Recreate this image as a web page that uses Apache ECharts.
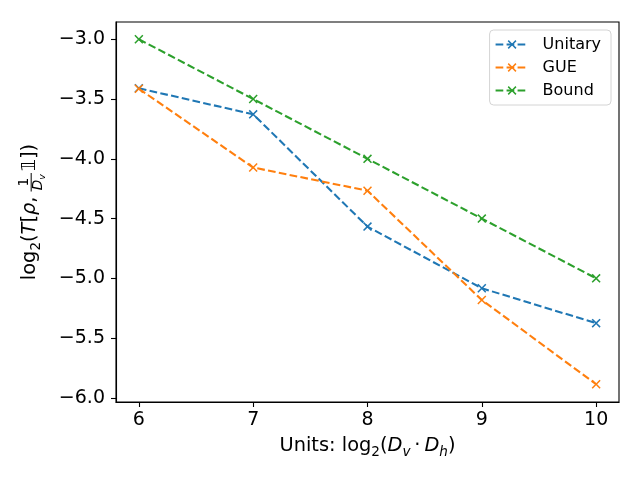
<!DOCTYPE html>
<html><head><meta charset="utf-8">
<script src="https://cdn.jsdelivr.net/npm/echarts@6/dist/echarts.min.js"></script>
<style>html,body{margin:0;padding:0;background:#fff}#c{width:640px;height:480px}</style>
</head><body><div id="c"></div>
<script>
// ---- data ----
const xValues = [6, 7, 8, 9, 10];
const unitary = [-3.41, -3.628, -4.567, -5.083, -5.375];
const gue = [-3.414, -4.073, -4.267, -5.181, -5.886];
const bound = [-3.0, -3.5, -4.0, -4.5, -5.0];
const xTicks = [6, 7, 8, 9, 10];
const yTicks = [-6.0, -5.5, -5.0, -4.5, -4.0, -3.5, -3.0];
const seriesNames = ['Unitary', 'GUE', 'Bound'];
const seriesColors = ['#1f77b4', '#ff7f0e', '#2ca02c'];

// ---- math label helper ----
const FONT = '"DejaVu Sans"';
const mctx = document.createElement('canvas').getContext('2d');
function fontStr(size, it) { return (it ? 'italic ' : '') + size.toFixed(2) + 'px ' + FONT; }
function measure(t, size, it) { mctx.font = fontStr(size, it); return mctx.measureText(t).width; }
function pieceWidth(p, size) {
  if (p.frac) { const fs = size * 0.7; return Math.max(runWidth(p.frac.num, fs), runWidth(p.frac.den, fs)) + 0.3 * size; }
  if (p.sp) return p.sp * size;
  return measure(p.t, size * (p.s || 1), p.it);
}
function runWidth(ps, size) { let w = 0; for (const p of ps) w += pieceWidth(p, size); return w; }
function layout(ps, size, x, base, out) {
  for (const p of ps) {
    if (p.frac) {
      const fs = size * 0.7;
      const nw = runWidth(p.frac.num, fs), dw = runWidth(p.frac.den, fs);
      const inner = Math.max(nw, dw), pad = 0.15 * size;
      const bar = base - 0.3 * size;
      layout(p.frac.num, fs, x + pad + (inner - nw) / 2, bar - 0.1 * size, out);
      layout(p.frac.den, fs, x + pad + (inner - dw) / 2, bar + 0.1 * size + 0.73 * fs, out);
      out.push({ type: 'rect', silent: true, shape: { x: x + pad * 0.6, y: bar - 0.5, width: inner + pad * 0.8, height: 1 }, style: { fill: '#000' } });
      x += inner + 2 * pad;
    } else if (p.sp) {
      x += p.sp * size;
    } else {
      const s = size * (p.s || 1);
      const b = base + (p.dy || 0) * size;
      out.push({ type: 'text', silent: true, x: x, y: b - 0.346 * s,
        style: { text: p.t, font: fontStr(s, p.it), fill: '#000', textAlign: 'left', align: 'left', textVerticalAlign: 'middle', verticalAlign: 'middle' } });
      x += measure(p.t, s, p.it);
    }
  }
  return x;
}
const M = 19.4;   // axis-title size
const T = 19;     // tick label size
const yLabelPieces = [
  { t: 'log' }, { t: '2', s: 0.7, dy: 0.22 }, { t: '(' }, { t: 'T', it: true }, { t: '[' }, { t: 'ρ', it: true }, { t: ',' }, { sp: 0.17 },
  { frac: { num: [{ t: '1' }], den: [{ t: 'D', it: true }, { t: 'v', it: true, s: 0.7, dy: 0.22 }] } },
  { t: '𝟙' }, { t: ']' }, { t: ')' }
];
const xLabelPieces = [
  { t: 'Units: log' }, { t: '2', s: 0.7, dy: 0.22 }, { t: '(' }, { t: 'D', it: true }, { t: 'v', it: true, s: 0.7, dy: 0.22 },
  { sp: 0.2 }, { t: '·' }, { sp: 0.2 }, { t: 'D', it: true }, { t: 'h', it: true, s: 0.7, dy: 0.22 }, { t: ')' }
];
const yEls = [], xEls = [];
const yW = layout(yLabelPieces, M, 0, 0, yEls);
const xW = layout(xLabelPieces, M, 0, 0, xEls);

// ---- chart ----
const xSymbol = 'path://M0,1.2L1.2,0L5,3.8L8.8,0L10,1.2L6.2,5L10,8.8L8.8,10L5,6.2L1.2,10L0,8.8L3.8,5Z';
const allSeries = [unitary, gue, bound];
const tickFmtY = v => (v < 0 ? '\u2212' : '') + Math.abs(v).toFixed(1);

const chart = echarts.init(document.getElementById('c'), null, { renderer: 'canvas' });
chart.setOption({
  animation: false,
  backgroundColor: '#fff',
  grid: { left: 116, right: 21, top: 22, bottom: 78, show: true, borderColor: '#000', borderWidth: 1.1, backgroundColor: 'transparent' },
  xAxis: {
    type: 'value', min: 5.8, max: 10.2,
    axisLine: { show: true, lineStyle: { color: '#000', width: 1.1 } },
    axisTick: { show: true, length: 5, lineStyle: { color: '#000', width: 1.1 }, customValues: xTicks },
    axisLabel: { color: '#000', fontSize: T, fontFamily: FONT, margin: 9, customValues: xTicks, formatter: v => String(v) },
    splitLine: { show: false }
  },
  yAxis: {
    type: 'value', min: -6.0343, max: -2.8557,
    axisLine: { show: true, onZero: false, lineStyle: { color: '#000', width: 1.1 } },
    axisTick: { show: true, length: 5, lineStyle: { color: '#000', width: 1.1 }, customValues: yTicks },
    axisLabel: { color: '#000', fontSize: T, fontFamily: FONT, margin: 11, customValues: yTicks, formatter: tickFmtY },
    splitLine: { show: false }
  },
  legend: {
    orient: 'vertical', right: 29, top: 30,
    data: seriesNames,
    backgroundColor: '#fff', borderColor: '#d4d4d4', borderWidth: 1, borderRadius: 4,
    padding: [6, 10, 6, 5], itemWidth: 33, itemHeight: 11, itemGap: 6,
    textStyle: { fontSize: 16, fontFamily: FONT, color: '#000', padding: [0, 0, 0, 9], lineHeight: 17 }
  },
  series: allSeries.map((vals, i) => ({
    name: seriesNames[i], type: 'line',
    data: xValues.map((x, j) => [x, vals[j]]),
    symbol: xSymbol, symbolSize: 9, showSymbol: true,
    itemStyle: { color: seriesColors[i] },
    lineStyle: { color: seriesColors[i], width: 2.08, type: [7.7, 3.3] },
    emphasis: { disabled: true }, z: 2 + i
  })),
  graphic: [
    { type: 'group', x: 37, y: 212 + yW / 2, rotation: Math.PI / 2, children: yEls },
    { type: 'group', x: 367.5 - xW / 2, y: 453, children: xEls }
  ]
});
</script>
</body></html>
